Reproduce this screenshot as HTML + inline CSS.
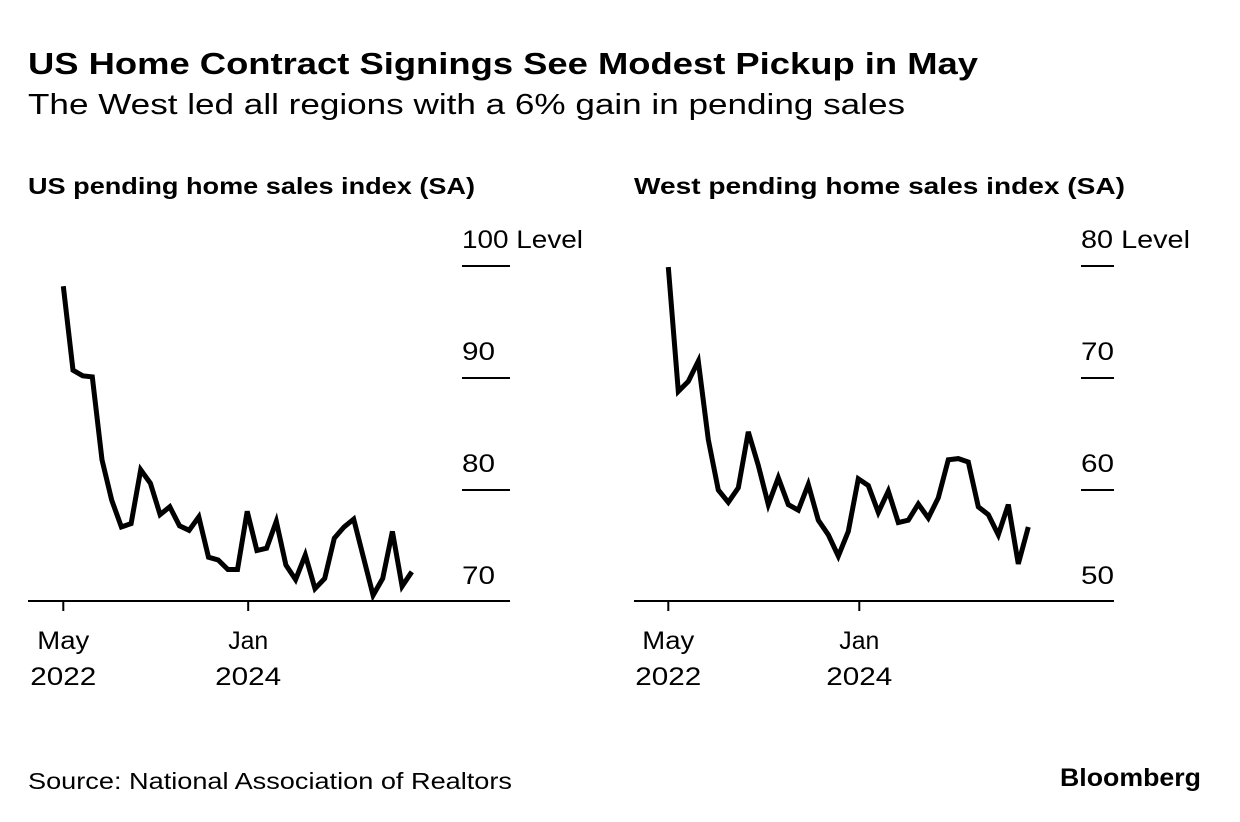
<!DOCTYPE html>
<html><head><meta charset="utf-8"><style>
body{margin:0;background:#fff;width:1240px;height:822px;overflow:hidden;font-family:"Liberation Sans",sans-serif}
svg{position:absolute;left:0;top:0}
</style></head><body>
<svg id="c" width="1240" height="822">
<text x="28" y="74" font-size="31" font-weight="bold" fill="#000" textLength="950" lengthAdjust="spacingAndGlyphs">US Home Contract Signings See Modest Pickup in May</text>
<text x="28" y="114" font-size="29" fill="#000" textLength="877" lengthAdjust="spacingAndGlyphs">The West led all regions with a 6% gain in pending sales</text>
<text x="28" y="194" font-size="23" font-weight="bold" textLength="447" lengthAdjust="spacingAndGlyphs">US pending home sales index (SA)</text>
<text x="634" y="194" font-size="23" font-weight="bold" textLength="491" lengthAdjust="spacingAndGlyphs">West pending home sales index (SA)</text>
<text x="28" y="789" font-size="23" textLength="484" lengthAdjust="spacingAndGlyphs">Source: National Association of Realtors</text>
<text x="1060" y="786" font-size="25" font-weight="bold" textLength="141" lengthAdjust="spacingAndGlyphs">Bloomberg</text>
</svg>
<script>
const usValues=[98.2,90.7,90.2,90.1,82.7,79.1,76.7,77.0,81.8,80.6,77.8,78.5,76.8,76.4,77.6,74.0,73.75,72.9,72.9,78.1,74.6,74.8,77.2,73.3,72.0,74.2,71.2,72.1,75.7,76.7,77.4,74.0,70.6,72.1,76.3,71.4,72.7];
const westValues=[79.9,68.8,69.7,71.5,64.5,60.0,58.9,60.2,65.2,62.2,58.7,61.1,58.7,58.2,60.5,57.3,56.0,54.1,56.3,61.0,60.4,58.0,59.9,57.1,57.3,58.75,57.5,59.3,62.7,62.8,62.5,58.5,57.8,56.0,58.7,53.4,56.7];
const usYTicks=[100,90,80,70];
const westYTicks=[80,70,60,50];
const xTickIdx=[0,19.1];
const xTickLabels=[["May","2022"],["Jan","2024"]];
const NS="http://www.w3.org/2000/svg";
const svg=document.getElementById('c');
function mk(t,a){const e=document.createElementNS(NS,t);for(const k in a)e.setAttribute(k,a[k]);svg.appendChild(e);return e;}
function panel(p,vals,yt){
  const ymin=yt[yt.length-1];
  const y=v=>602-(v-ymin)*11.2;
  const x=i=>p.x0+i*p.step;
  let e=mk('line',{x1:p.ax0,x2:p.ax1,y1:601,y2:601,stroke:'#000','stroke-width':2});
  
  
  yt.forEach((v,k)=>{
    if(k<yt.length-1){
      let g=mk('line',{x1:p.gx0,x2:p.ax1,y1:y(v),y2:y(v),stroke:'#000','stroke-width':2});
      
      
    }
    let s=k===0?v+' Level':String(v);
    let w=k===0?(String(v).length===3?121:109):(String(v).length*16.5);
    let t=mk('text',{x:p.gx0,y:y(v)-18,'font-size':25,textLength:w,lengthAdjust:'spacingAndGlyphs'});
    t.textContent=s;
    
    
  });
  xTickIdx.forEach((ix,k)=>{
    let l=mk('line',{x1:x(ix),x2:x(ix),y1:601,y2:611,stroke:'#000','stroke-width':2});
    
    
    xTickLabels[k].forEach((s,j)=>{
      let w=s.length===4?66:(s==='May'?52:40);
      let t=mk('text',{x:x(ix),y:649+j*36,'font-size':25,'text-anchor':'middle',textLength:w,lengthAdjust:'spacingAndGlyphs'});
      t.textContent=s;
      
      
    });
  });
  let d=vals.map((v,i)=>(i?'L':'M')+x(i).toFixed(1)+' '+y(v).toFixed(1)).join(' ');
  let path=mk('path',{d:d,fill:'none',stroke:'#000','stroke-width':5,'stroke-linejoin':'miter','stroke-linecap':'butt'});
  
  
}
panel({n:'us',x0:63.3,step:9.68,ax0:28,ax1:510,gx0:462},usValues,usYTicks);
panel({n:'west',x0:668.3,step:10.0,ax0:634,ax1:1114,gx0:1081},westValues,westYTicks);
</script>
</body></html>
